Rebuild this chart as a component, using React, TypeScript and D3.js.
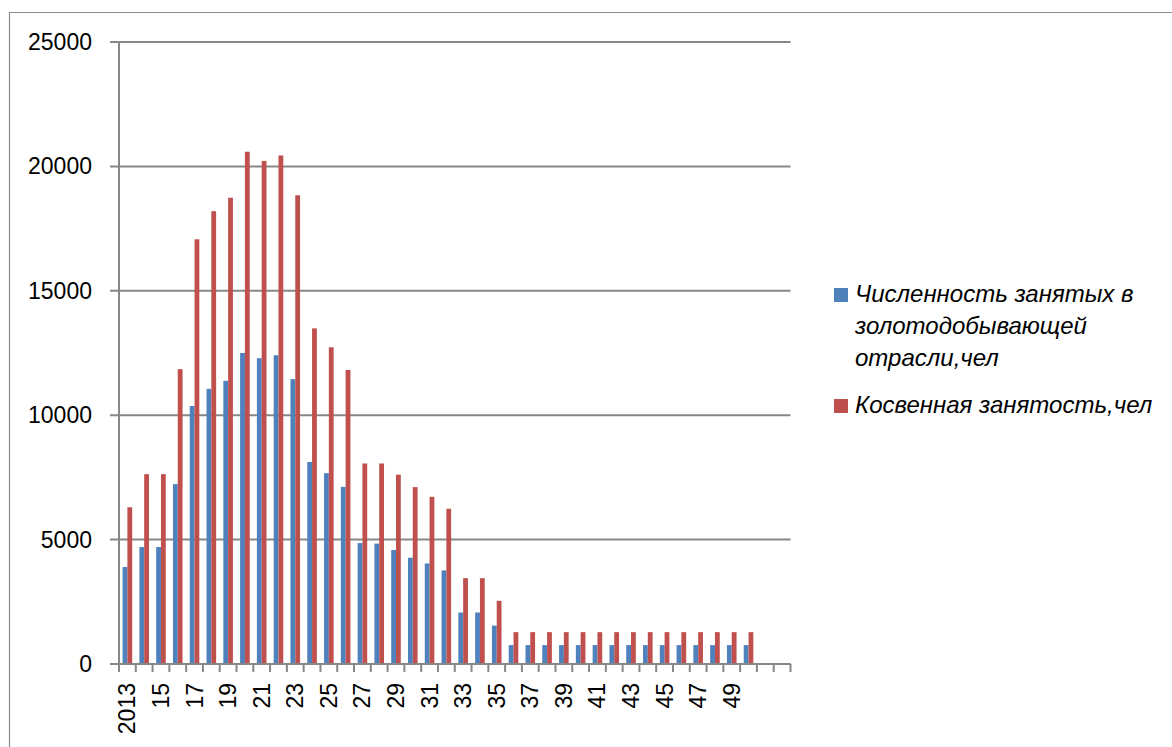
import * as d3 from 'd3';

// categories: 2013 + short years, two empty slots at the end of the axis
const categories = [
  '2013', '14', '15', '16', '17', '18', '19', '20', '21', '22',
  '23', '24', '25', '26', '27', '28', '29', '30', '31', '32',
  '33', '34', '35', '36', '37', '38', '39', '40', '41', '42',
  '43', '44', '45', '46', '47', '48', '49', '50', '', '',
];

const seriesNames = [
  'Численность занятых в золотодобывающей отрасли,чел',
  'Косвенная занятость,чел',
];

const employed = [
  3900, 4700, 4700, 7230, 10370, 11060, 11380, 12500, 12290, 12410,
  11450, 8120, 7670, 7120, 4860, 4840, 4580, 4270, 4040, 3760,
  2070, 2070, 1540, 760, 760, 760, 760, 760, 760, 760,
  760, 760, 760, 760, 760, 760, 760, 760,
];

const indirect = [
  6300, 7630, 7630, 11850, 17070, 18200, 18740, 20590, 20220, 20440,
  18840, 13490, 12730, 11820, 8060, 8060, 7610, 7110, 6720, 6240,
  3450, 3450, 2540, 1280, 1280, 1280, 1280, 1280, 1280, 1280,
  1280, 1280, 1280, 1280, 1280, 1280, 1280, 1280,
];

const yTicks = [0, 5000, 10000, 15000, 20000, 25000];

// legend text as wrapped in the original
const legendLines = [
  ['Численность занятых в', 'золотодобывающей', 'отрасли,чел'],
  ['Косвенная занятость,чел'],
];

const COLORS = ['#4F81BD', '#C0504D'];
const AXIS = '#878787';
const FONT = '"Liberation Sans", Arial, sans-serif';

const W = 1172;
const H = 747;
const PLOT = { left: 119, right: 790.5, top: 42, bottom: 664 };

export default function App() {
  const idx = d3.range(categories.length);
  const x0 = d3.scaleBand<number>().domain(idx).range([PLOT.left, PLOT.right]).padding(0);
  const x1 = d3
    .scaleBand<number>()
    .domain([0, 1])
    .range([0, x0.bandwidth()])
    .paddingInner(0)
    .paddingOuter(0.75);
  const y = d3.scaleLinear().domain([0, 25000]).range([PLOT.bottom, PLOT.top]);

  const series = [employed, indirect];
  const tickXs = [...idx.map((i) => x0(i)!), PLOT.right];

  return (
    <svg
      width={W}
      height={H}
      style={{ position: 'absolute', left: 0, top: 0, background: '#fff' }}
      fontFamily={FONT}
    >
      <title>{seriesNames.join(' / ')}</title>
      {/* chart frame: only left and top edges are inside the picture */}
      <path d={`M9.5,${H} V12.5 H${W}`} fill="none" stroke="#8c8c8c" strokeWidth={1.2} />

      {/* gridlines + y labels */}
      {yTicks.map((t) => (
        <g key={t}>
          <line x1={PLOT.left - 9} x2={PLOT.right} y1={y(t)} y2={y(t)} stroke={AXIS} strokeWidth={2} />
          <text x={92} y={y(t) + 8} textAnchor="end" fontSize={23} fill="#000">
            {t}
          </text>
        </g>
      ))}

      {/* bars */}
      {series.map((vals, s) =>
        vals.map((v, i) => (
          <rect
            key={`${s}-${i}`}
            x={x0(i)! + x1(s)!}
            y={y(v)}
            width={x1.bandwidth()}
            height={y(0) - y(v)}
            fill={COLORS[s]}
          />
        ))
      )}

      {/* axes */}
      <line x1={PLOT.left} x2={PLOT.left} y1={PLOT.top} y2={PLOT.bottom} stroke={AXIS} strokeWidth={2} />
      <line x1={PLOT.left - 9} x2={PLOT.right} y1={y(0)} y2={y(0)} stroke={AXIS} strokeWidth={2} />
      {tickXs.map((tx, i) => (
        <line key={i} x1={tx} x2={tx} y1={y(0)} y2={y(0) + 8} stroke={AXIS} strokeWidth={2} />
      ))}
      {categories.map((c, i) =>
        i % 2 === 0 && c ? (
          <text
            key={c}
            transform={`translate(${x0(i)! + x0.bandwidth() / 2 + 8},${y(0) + 19}) rotate(-90)`}
            textAnchor="end"
            fontSize={23}
            fill="#000"
          >
            {c}
          </text>
        ) : null
      )}

      {/* legend */}
      {legendLines.map((lines, s) => {
        const top = s === 0 ? 288 : 399;
        return (
          <g key={s}>
            <rect x={834} y={top} width={14} height={14} fill={COLORS[s]} />
            {lines.map((ln, k) => (
              <text
                key={k}
                x={855}
                y={top + 14 + k * 32}
                fontSize={24}
                fontStyle="italic"
                fill="#000"
              >
                {ln}
              </text>
            ))}
          </g>
        );
      })}
    </svg>
  );
}
